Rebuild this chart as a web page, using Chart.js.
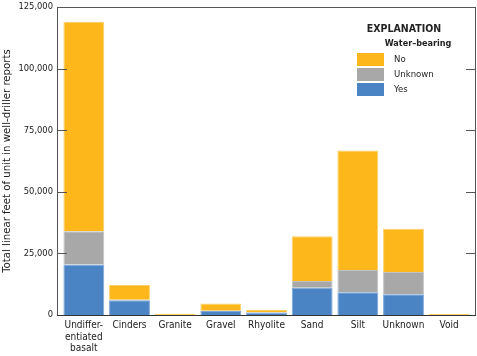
<!DOCTYPE html>
<html lang="en">
<head>
    <meta charset="UTF-8">
    <title>Water-bearing units</title>
    <script src="https://cdn.jsdelivr.net/npm/chart.js@4.4.1/dist/chart.umd.min.js"></script>
    <style>
        html, body { margin: 0; padding: 0; background: #fff; }
        #wrap { width: 477px; height: 356px; }
    </style>
</head>
<body>
<div id="wrap"><canvas id="unitChart"></canvas></div>
<script>
    // chart values
    var categories = [["Undiffer-", "entiated", "basalt"], "Cinders", "Granite", "Gravel", "Rhyolite", "Sand", "Silt", "Unknown", "Void"];
    var yesFeet     = [20500, 6000,   0, 1600,  900, 11100,  9200,  8400,   0];
    var unknownFeet = [13500,  200,   0,  100,  300,  2700,  9100,  9100,   0];
    var noFeet      = [85000, 6000, 500, 3000,  800, 18200, 48500, 17500, 400];
    var yTicks = [0, 25000, 50000, 75000, 100000, 125000];

    // pick a narrow face if one is installed
    function pickFont() {
        var c = document.createElement('canvas').getContext('2d');
        var probe = 'Total linear feet 125,000';
        c.font = '20px monospace';
        var base = c.measureText(probe).width;
        var names = ['Liberation Sans Narrow', 'DejaVu Sans Condensed'];
        for (var i = 0; i < names.length; i++) {
            c.font = "20px '" + names[i] + "', monospace";
            if (Math.abs(c.measureText(probe).width - base) > 0.5) {
                return "'" + names[i] + "', 'Liberation Sans', sans-serif";
            }
        }
        return "'Liberation Sans', sans-serif";
    }
    var FONT = pickFont();
    var INSET = 4; // frame sits a bit outside the bar area

    // frame, inward ticks and explanation box
    var framePlugin = {
        id: 'frame',
        afterDraw: function (chart) {
            var ctx = chart.ctx;
            var a = chart.chartArea;
            var y = chart.scales.y;
            var L = a.left - INSET, R = a.right + INSET;
            ctx.save();
            ctx.strokeStyle = '#555';
            ctx.lineWidth = 1;
            ctx.beginPath();
            ctx.moveTo(L + 0.5, a.bottom);
            ctx.lineTo(L + 0.5, a.top + 0.5);
            ctx.lineTo(R - 0.5, a.top + 0.5);
            ctx.lineTo(R - 0.5, a.bottom);
            ctx.stroke();
            yTicks.forEach(function (v) {
                var py = Math.round(y.getPixelForValue(v)) + 0.5;
                ctx.beginPath();
                ctx.moveTo(L, py);
                ctx.lineTo(L + 10, py);
                ctx.moveTo(R, py);
                ctx.lineTo(R - 10, py);
                ctx.stroke();
            });
            ctx.strokeStyle = '#333';
            ctx.beginPath();
            ctx.moveTo(L, a.bottom + 0.5);
            ctx.lineTo(R, a.bottom + 0.5);
            ctx.stroke();

            // explanation
            ctx.fillStyle = '#222';
            ctx.textBaseline = 'middle';
            ctx.textAlign = 'center';
            ctx.font = 'bold 10.5px ' + FONT;
            ctx.fillText('EXPLANATION', 404, 29);
            ctx.font = 'bold 9px ' + FONT;
            ctx.fillText('Water\u2013bearing', 418, 44);
            var items = chart.data.datasets.slice().reverse();
            ctx.textAlign = 'left';
            ctx.font = '9.5px ' + FONT;
            items.forEach(function (ds, i) {
                var top = 53 + i * 15;
                ctx.fillStyle = ds.backgroundColor;
                ctx.fillRect(357, top, 27, 13);
                ctx.fillStyle = '#222';
                ctx.fillText(ds.label, 394, top + 6.5);
            });
            ctx.restore();
        }
    };

    var ctx = document.getElementById('unitChart');
    new Chart(ctx, {
        type: 'bar',
        data: {
            labels: categories,
            datasets: [
                { label: 'Yes', data: yesFeet, backgroundColor: '#4a84c4', borderColor: '#7ba6d8', borderWidth: 1 },
                { label: 'Unknown', data: unknownFeet, backgroundColor: '#a8a8a8', borderColor: '#c2c2c2', borderWidth: 1 },
                { label: 'No', data: noFeet, backgroundColor: '#fdb71a', borderColor: '#fdd067', borderWidth: 1 }
            ]
        },
        options: {
            responsive: true,
            maintainAspectRatio: false,
            animation: false,
            datasets: { bar: { barPercentage: 0.895, categoryPercentage: 1 } },
            layout: { padding: { top: 7, right: 1 + INSET, left: 0, bottom: 0 } },
            plugins: {
                legend: { display: false },
                tooltip: { enabled: false }
            },
            scales: {
                x: {
                    stacked: true,
                    grid: { display: false, drawTicks: false },
                    border: { display: false },
                    ticks: {
                        color: '#222',
                        padding: 5,
                        maxRotation: 0,
                        autoSkip: false,
                        font: { family: FONT, size: 10, lineHeight: 1.15 }
                    },
                    afterFit: function (s) {
                        s.height = 41;
                        s.paddingLeft = 0;
                        s.paddingRight = 0;
                    }
                },
                y: {
                    stacked: true,
                    min: 0,
                    max: 125000,
                    afterBuildTicks: function (s) {
                        s.ticks = yTicks.map(function (v) { return { value: v }; });
                    },
                    grid: { display: false, drawTicks: false },
                    border: { display: false },
                    ticks: {
                        color: '#222',
                        padding: 4 + INSET,
                        font: { family: FONT, size: 9.3 },
                        callback: function (v) { return v.toLocaleString('en-US'); }
                    },
                    title: {
                        display: true,
                        text: 'Total linear feet of unit in well-driller reports',
                        color: '#222',
                        padding: { top: 0, bottom: 2 },
                        font: { family: FONT, size: 11.3 }
                    },
                    afterFit: function (s) {
                        s.width = 57 + INSET;
                        s.paddingTop = 0;
                        s.paddingBottom = 0;
                    }
                }
            }
        },
        plugins: [framePlugin]
    });
</script>
</body>
</html>
